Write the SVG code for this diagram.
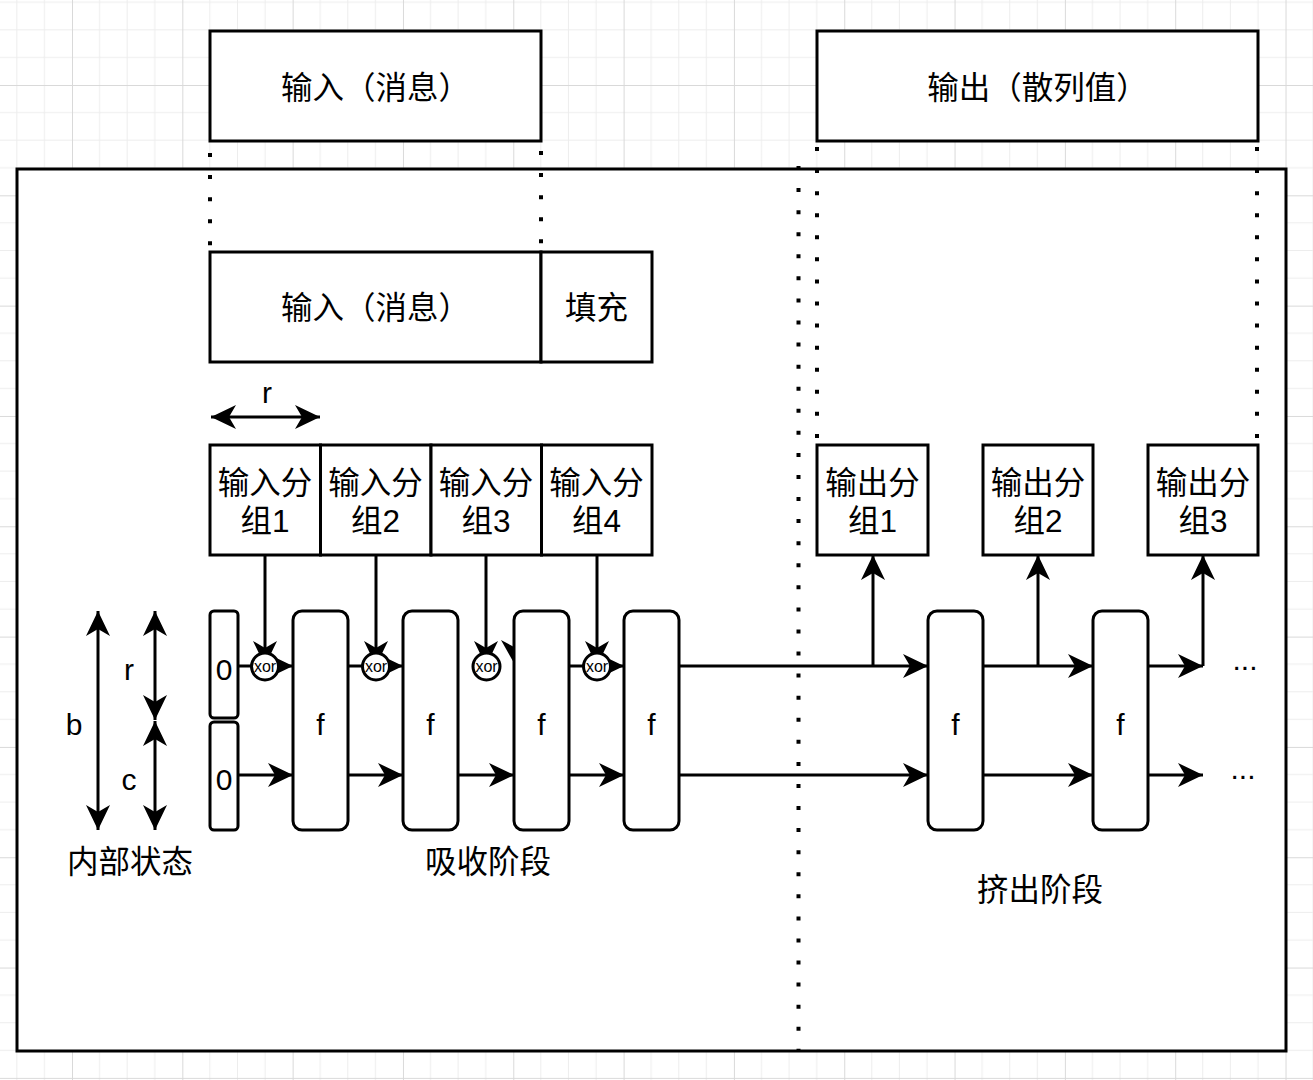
<svg xmlns="http://www.w3.org/2000/svg" width="1313" height="1080" viewBox="0 0 1313 1080">
<style>
.box{fill:#fff;stroke:#000;stroke-width:3}
.ln{fill:none;stroke:#000;stroke-width:3}
.arr{fill:none;stroke:#000;stroke-width:3;marker-end:url(#ah)}
.arr2{fill:none;stroke:#000;stroke-width:3;marker-end:url(#ah);marker-start:url(#ah)}
.dot{fill:none;stroke:#000;stroke-width:4;stroke-dasharray:4 18.07}
.t{font-family:"Liberation Sans","Noto Sans CJK SC",sans-serif;font-size:30px;fill:#000;text-anchor:middle}
.c{font-family:"Liberation Sans","Noto Sans CJK SC",sans-serif;font-size:31.5px;fill:#000;text-anchor:middle}
.x{font-family:"Liberation Sans","Noto Sans CJK SC",sans-serif;font-size:16px;fill:#000;text-anchor:middle}
</style>
<defs>
<pattern id="grid" patternUnits="userSpaceOnUse" x="72" y="85" width="110.32" height="110.32">
<path d="M27.58 0V110.32M55.16 0V110.32M82.74 0V110.32M0 27.58H110.32M0 55.16H110.32M0 82.74H110.32" stroke="#ededed" stroke-width="1" fill="none"/>
<path d="M0.5 0V110.32M0 0.5H110.32" stroke="#d9d9d9" stroke-width="1" fill="none"/>
</pattern>
<marker id="ah" markerUnits="userSpaceOnUse" viewBox="-26 -13 27 26" refX="0" refY="0" markerWidth="27" markerHeight="26" orient="auto-start-reverse">
<path d="M0,0 L-25,-12 L-18,0 L-25,12 Z" fill="#000"/>
</marker>
</defs>
<rect x="0" y="0" width="1313" height="1080" fill="#fff"/>
<rect x="0" y="0" width="1313" height="1080" fill="url(#grid)"/>

<g id="frame">
<rect class="box" x="17" y="169" width="1269" height="882"/>
</g>

<g id="connectors">
<path class="dot" d="M210 153V252"/>
<path class="dot" d="M541 151V252"/>
<path class="dot" d="M817 147V445"/>
<path class="dot" d="M1257 147V445"/>
<path class="dot" d="M798.5 166V1052"/>
<path class="arr2" d="M211 417H320"/>
<path class="arr2" d="M98 611V830"/>
<path class="arr2" d="M155 611V720"/>
<path class="arr2" d="M155 721V830"/>
<path class="arr" d="M265 555V666"/>
<path class="arr" d="M376 555V666"/>
<path class="arr" d="M486 555V666"/>
<path class="arr" d="M597 555V666"/>
<path class="arr" d="M238 666H293"/>
<path class="arr" d="M348 666H403"/>
<path d="M514 663L501 640L514 647Z" fill="#000"/>
<path class="arr" d="M569 666H624"/>
<path class="arr" d="M238 775H293"/>
<path class="arr" d="M348 775H403"/>
<path class="arr" d="M458 775H514"/>
<path class="arr" d="M569 775H624"/>
<path class="arr" d="M679 666H928"/>
<path class="arr" d="M679 775H928"/>
<path class="arr" d="M873 666V555"/>
<path class="arr" d="M983 666H1093"/>
<path class="arr" d="M983 775H1093"/>
<path class="arr" d="M1038 666V555"/>
<path class="arr" d="M1148 666H1203"/>
<path class="arr" d="M1148 775H1203"/>
<path class="arr" d="M1203 666V555"/>
</g>

<g id="msg-top"><rect class="box" x="210" y="31" width="331" height="110"/><text class="c" x="375.5" y="99">输入（消息）</text></g>
<g id="hash-top"><rect class="box" x="817" y="31" width="441" height="110"/><text class="c" x="1037.5" y="99">输出（散列值）</text></g>
<g id="msg"><rect class="box" x="210" y="252" width="331" height="110"/><text class="c" x="375.5" y="319">输入（消息）</text></g>
<g id="pad"><rect class="box" x="541" y="252" width="111" height="110"/><text class="c" x="596.5" y="319">填充</text></g>

<g id="in1"><rect class="box" x="210" y="445" width="110.5" height="110"/><text class="c" x="265" y="494">输入分</text><text class="c" x="265" y="532">组1</text></g>
<g id="in2"><rect class="box" x="320.5" y="445" width="110.5" height="110"/><text class="c" x="375.5" y="494">输入分</text><text class="c" x="375.5" y="532">组2</text></g>
<g id="in3"><rect class="box" x="431" y="445" width="110.5" height="110"/><text class="c" x="486" y="494">输入分</text><text class="c" x="486" y="532">组3</text></g>
<g id="in4"><rect class="box" x="541.5" y="445" width="110.5" height="110"/><text class="c" x="596.5" y="494">输入分</text><text class="c" x="596.5" y="532">组4</text></g>

<g id="out1"><rect class="box" x="817" y="445" width="111" height="110"/><text class="c" x="872.5" y="494">输出分</text><text class="c" x="872.5" y="532">组1</text></g>
<g id="out2"><rect class="box" x="983" y="445" width="110" height="110"/><text class="c" x="1038" y="494">输出分</text><text class="c" x="1038" y="532">组2</text></g>
<g id="out3"><rect class="box" x="1148" y="445" width="110" height="110"/><text class="c" x="1203" y="494">输出分</text><text class="c" x="1203" y="532">组3</text></g>

<g id="zero-r"><rect class="box" x="210" y="611" width="28" height="107" rx="4"/><text class="t" x="224" y="680">0</text></g>
<g id="zero-c"><rect class="box" x="210" y="722" width="28" height="108" rx="4"/><text class="t" x="224" y="790">0</text></g>

<g id="f1"><rect class="box" x="293" y="611" width="55" height="219" rx="9"/><text class="t" x="320.5" y="735">f</text></g>
<g id="f2"><rect class="box" x="403" y="611" width="55" height="219" rx="9"/><text class="t" x="430.5" y="735">f</text></g>
<g id="f3"><rect class="box" x="514" y="611" width="55" height="219" rx="9"/><text class="t" x="541.5" y="735">f</text></g>
<g id="f4"><rect class="box" x="624" y="611" width="55" height="219" rx="9"/><text class="t" x="651.5" y="735">f</text></g>
<g id="f5"><rect class="box" x="928" y="611" width="55" height="219" rx="9"/><text class="t" x="955.5" y="735">f</text></g>
<g id="f6"><rect class="box" x="1093" y="611" width="55" height="219" rx="9"/><text class="t" x="1120.5" y="735">f</text></g>

<g id="xor1"><circle class="box" cx="265" cy="666.5" r="13.5"/><text class="x" x="265" y="672">xor</text></g>
<g id="xor2"><circle class="box" cx="376" cy="666.5" r="13.5"/><text class="x" x="376" y="672">xor</text></g>
<g id="xor3"><circle class="box" cx="486.5" cy="666.5" r="13.5"/><text class="x" x="486.5" y="672">xor</text></g>
<g id="xor4"><circle class="box" cx="597" cy="666.5" r="13.5"/><text class="x" x="597" y="672">xor</text></g>

<g id="labels">
<text class="t" x="267" y="403">r</text>
<text class="t" x="74" y="735">b</text>
<text class="t" x="129" y="680">r</text>
<text class="t" x="129" y="790">c</text>
<text class="c" x="130" y="873">内部状态</text>
<text class="c" x="488" y="873">吸收阶段</text>
<text class="c" x="1040" y="901">挤出阶段</text>
<text class="t" x="1245" y="670">...</text>
<text class="t" x="1243" y="779">...</text>
</g>
</svg>
